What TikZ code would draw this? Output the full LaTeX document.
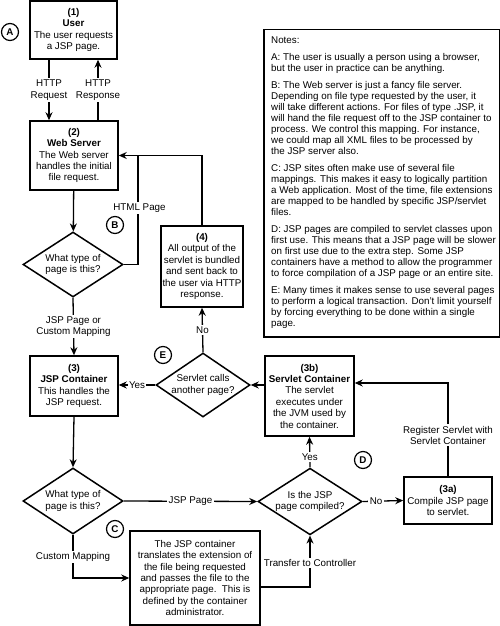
\documentclass[tikz,border=0pt]{standalone}
\usepackage{fontspec}
\setmainfont{Liberation Sans}
\usetikzlibrary{shapes.geometric,arrows.meta}
\begin{document}
\begin{tikzpicture}[x=1pt,y=-1pt,
  font=\fontsize{9.8}{11.4}\selectfont,
  box/.style={draw,line width=1.5pt,align=center,inner sep=0pt},
  dia/.style={draw,diamond,line width=1.5pt,align=center,inner sep=0pt,aspect=1.5},
  lab/.style={fill=white,inner sep=1.5pt,align=center},
  circ/.style={draw,circle,line width=1.2pt,minimum size=17pt,inner sep=0pt,font=\fontsize{9.8}{11}\selectfont\bfseries},
  arr/.style={line width=1.3pt,-{Stealth[length=8pt,width=7pt]}},
  ln/.style={line width=1.3pt}]
\useasboundingbox (0,0) rectangle (500,626);

% boxes
\node[box,minimum width=87pt,minimum height=58pt] (user) at (73.5,30)
  {\textbf{(1)}\\\textbf{User}\\The user requests\\a JSP page.};
\node[box,minimum width=88pt,minimum height=69pt] (web) at (74,155.5)
  {\textbf{(2)}\\\textbf{Web Server}\\The Web server\\handles the initial\\file request.};
\node[box,minimum width=82pt,minimum height=81pt] (out) at (202,266.5)
  {\textbf{(4)}\\All output of the\\servlet is bundled\\and sent back to\\the user via HTTP\\response.};
\node[box,minimum width=88pt,minimum height=60pt] (jsp) at (74,386)
  {\textbf{(3)}\\\textbf{JSP Container}\\This handles the\\JSP request.};
\node[box,minimum width=89pt,minimum height=80pt] (svc) at (309.5,396)
  {\textbf{(3b)}\\\textbf{Servlet Container}\\The servlet\\executes under\\the JVM used by\\the container.};
\node[box,minimum width=88pt,minimum height=47pt] (comp) at (448,500.5)
  {\textbf{(3a)}\\Compile JSP page\\to servlet.};
\node[box,minimum width=130pt,minimum height=94pt] (trans) at (195,578)
  {The JSP container\\translates the extension of\\the file being requested\\and passes the file to the\\appropriate page.\ \ This is\\defined by the container\\administrator.};

% diamonds
\node[dia,minimum width=100pt,minimum height=65pt] (d1) at (73,264.5) {What type of\\page is this?};
\node[dia,minimum width=92pt,minimum height=64pt] (de) at (203,385) {Servlet calls\\another page?};
\node[dia,minimum width=100pt,minimum height=66pt] (d2) at (73,501) {What type of\\page is this?};
\node[dia,minimum width=104pt,minimum height=65pt] (d3) at (310,501.5) {Is the JSP\\page compiled?};

% circled letters
\node[circ] (ca) at (10,32) {A};
\node[circ] (cb) at (115,225) {B};
\node[circ] (cc) at (115,529) {C};
\node[circ] (cd) at (363,460) {D};
\node[circ] (ce) at (163,355) {E};

% notes
\node[draw,line width=1.5pt,minimum width=236pt,minimum height=307pt,anchor=north west] (notes) at (263,29) {};
\node[anchor=north west,align=left,inner sep=0pt,font=\fontsize{9.8}{11}\selectfont] (notestext) at (271,37)
{Notes:\\[6pt]
A: The user is usually a person using a browser,\\
but the user in practice can be anything.\\[6pt]
B: The Web server is just a fancy file server.\\
Depending on file type requested by the user, it\\
will take different actions. For files of type .JSP, it\\
will hand the file request off to the JSP container to\\
process. We control this mapping. For instance,\\
we could map all XML files to be processed by\\
the JSP server also.\\[6pt]
C: JSP sites often make use of several file\\
mappings. This makes it easy to logically partition\\
a Web application. Most of the time, file extensions\\
are mapped to be handled by specific JSP/servlet\\
files.\\[6pt]
D: JSP pages are compiled to servlet classes upon\\
first use. This means that a JSP page will be slower\\
on first use due to the extra step. Some JSP\\
containers have a method to allow the programmer\\
to force compilation of a JSP page or an entire site.\\[6pt]
E: Many times it makes sense to use several pages\\
to perform a logical transaction. Don't limit yourself\\
by forcing everything to be done within a single\\
page.};

% connectors
\draw[arr] ([xshift=-24.5pt]user.south) -- ([xshift=-25pt]web.north)
  node[lab,midway] {HTTP\\Request};
\draw[arr] ([xshift=24pt]web.north) -- ([xshift=24.5pt]user.south)
  node[lab,midway] {HTTP\\Response};
\draw[arr] (web) -- (d1);
\coordinate (hx) at (138,0);
\draw[ln] (d1.east) -- (d1.east -| hx) -- (web.east -| hx);
\node[lab] (html) at (139.5,208) {HTML Page};
\draw[arr] (out.north) |- (web.east);
\draw[arr] (d1.south) -- (jsp.north) node[lab,midway] {JSP Page or\\Custom Mapping};
\draw[arr] (jsp.south) -- (d2.north);
\draw[arr] (d2.east) -- (d3.west) node[lab,midway] {JSP Page};
\draw[arr] (d3.east) -- (comp.west) node[lab,pos=0.33] {No};
\draw[arr] (d3.north) -- (svc.south) node[lab,pos=0.35] {Yes};
\draw[arr] (comp.north) |- ([yshift=13pt]svc.east) node[lab,pos=0.22] {Register Servlet with\\Servlet Container};
\draw[arr] (de.east -| svc.west) -- (de.east);
\draw[arr] (de.west) -- (de.west -| jsp.east) node[lab,midway] {Yes};
\draw[arr] (de.north) -- (out.south) node[lab,midway] {No};
\draw[arr] (d2.south) |- (trans.west) node[lab,pos=0.26] {Custom Mapping};
\draw[arr] ([yshift=-9pt]trans.east) -| (d3.south) node[lab,pos=0.73] {Transfer to Controller};
\end{tikzpicture}
\end{document}
